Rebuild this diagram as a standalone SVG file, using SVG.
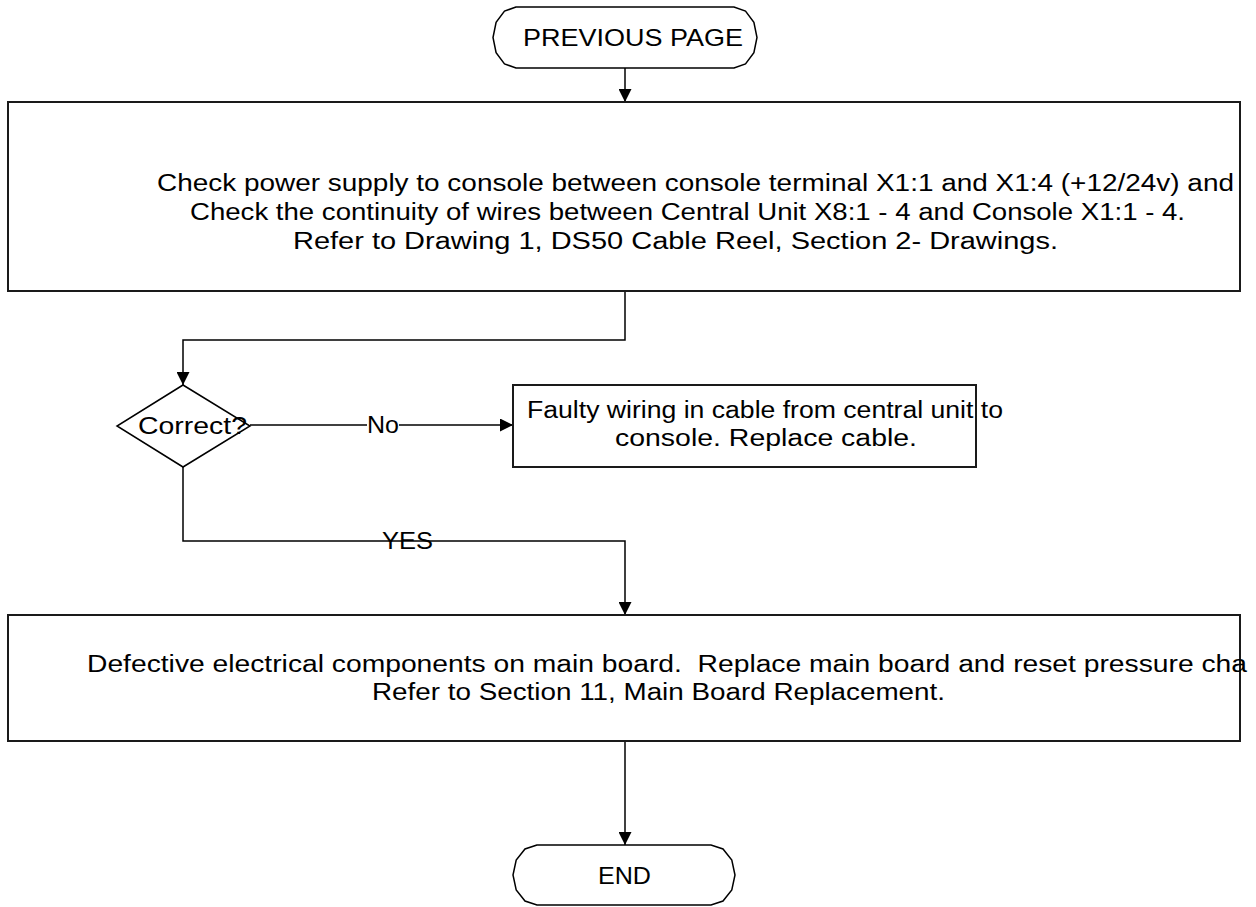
<svg xmlns="http://www.w3.org/2000/svg" width="1256" height="907" viewBox="0 0 1256 907">
  <style>
    .box { fill: #ffffff; stroke: #1a1a1a; stroke-width: 2; }
    .term { fill: #ffffff; stroke: #000000; stroke-width: 1.5; }
    .wire { fill: none; stroke: #000000; stroke-width: 1.5; }
    text { font-family: "Liberation Sans", Arial, sans-serif; fill: #000000; }
    .t23 { font-size: 23.5px; }
    .t24 { font-size: 24.5px; }
  </style>
  <defs>
    <marker id="arrow" markerUnits="userSpaceOnUse" markerWidth="13" markerHeight="13" refX="13" refY="6.5" orient="auto">
      <path d="M0,0 L13,6.5 L0,13 Z" fill="#000000"/>
    </marker>
  </defs>

  <rect width="1256" height="907" fill="#ffffff"/>

  <!-- connectors -->
  <g id="connectors">
    <line class="wire" x1="625" y1="68" x2="625" y2="102" marker-end="url(#arrow)"/>
    <polyline class="wire" points="625,291 625,340 183,340 183,385" marker-end="url(#arrow)"/>
    <line class="wire" x1="250" y1="425" x2="367" y2="425"/>
    <line class="wire" x1="399" y1="425" x2="513" y2="425" marker-end="url(#arrow)"/>
    <polyline class="wire" points="183,467 183,541 625,541 625,615" marker-end="url(#arrow)"/>
    <line class="wire" x1="625" y1="741" x2="625" y2="845" marker-end="url(#arrow)"/>
    <text class="t24" x="367" y="433" textLength="32" lengthAdjust="spacingAndGlyphs">No</text>
    <text class="t24" x="382" y="549" textLength="51" lengthAdjust="spacingAndGlyphs">YES</text>
  </g>

  <!-- start terminator -->
  <g id="start">
    <polygon class="term" points="516,7 504.5,11.1 496.1,22.25 493,37.5 496.1,52.75 504.5,63.9 516,68 734,68 745.5,63.9 753.9,52.75 757,37.5 753.9,22.25 745.5,11.1 734,7"/>
    <text class="t24" x="523" y="46" textLength="220" lengthAdjust="spacingAndGlyphs">PREVIOUS PAGE</text>
  </g>

  <!-- check power supply -->
  <g id="check-power">
    <rect class="box" x="8" y="102" width="1232" height="189"/>
    <text class="t23" x="157" y="191" textLength="1077" lengthAdjust="spacingAndGlyphs">Check power supply to console between console terminal X1:1 and X1:4 (+12/24v) and</text>
    <text class="t23" x="190" y="220" textLength="995" lengthAdjust="spacingAndGlyphs">Check the continuity of wires between Central Unit X8:1 - 4 and Console X1:1 - 4.</text>
    <text class="t23" x="293" y="249" textLength="765" lengthAdjust="spacingAndGlyphs">Refer to Drawing 1, DS50 Cable Reel, Section 2- Drawings.</text>
  </g>

  <!-- decision -->
  <g id="decision">
    <polygon class="term" points="183,385 250,426 183,467 117,426"/>
    <text class="t24" x="138" y="434" textLength="109" lengthAdjust="spacingAndGlyphs">Correct?</text>
  </g>

  <!-- faulty wiring -->
  <g id="faulty-wiring">
    <rect class="box" x="513" y="385" width="463" height="82"/>
    <text class="t23" x="527" y="418" textLength="476" lengthAdjust="spacingAndGlyphs">Faulty wiring in cable from central unit to</text>
    <text class="t23" x="615" y="446" textLength="302" lengthAdjust="spacingAndGlyphs">console. Replace cable.</text>
  </g>

  <!-- defective components -->
  <g id="defective-board">
    <rect class="box" x="8" y="615" width="1232" height="126"/>
    <text class="t23" x="87" y="672" textLength="1160" lengthAdjust="spacingAndGlyphs" xml:space="preserve">Defective electrical components on main board.  Replace main board and reset pressure cha</text>
    <text class="t23" x="372" y="700" textLength="573" lengthAdjust="spacingAndGlyphs">Refer to Section 11, Main Board Replacement.</text>
  </g>

  <!-- end terminator -->
  <g id="end">
    <polygon class="term" points="537,845 525,849 516.2,860 513,875 516.2,890 525,901 537,905 711,905 723,901 731.8,890 735,875 731.8,860 723,849 711,845"/>
    <text class="t24" x="598" y="884" textLength="53" lengthAdjust="spacingAndGlyphs">END</text>
  </g>
</svg>
